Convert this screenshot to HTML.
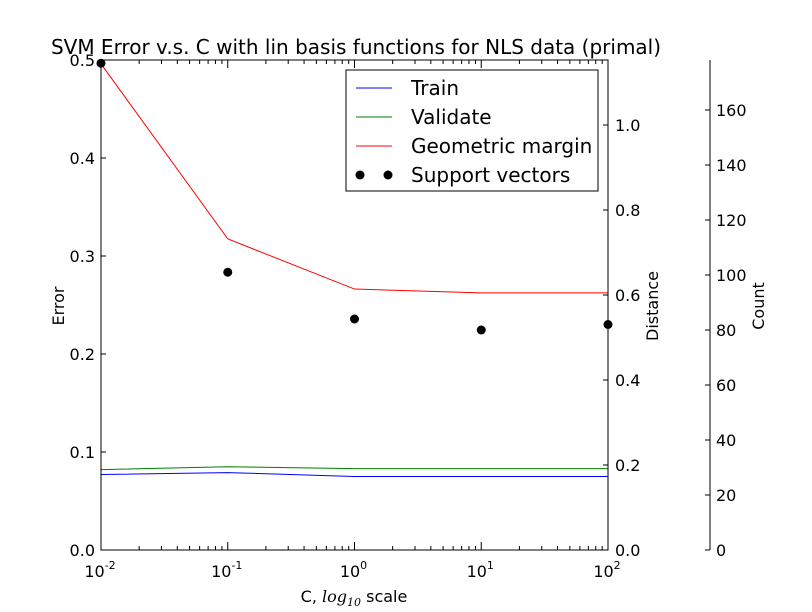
<!DOCTYPE html>
<html><head><meta charset="utf-8"><style>
body{margin:0;background:#fff;}
svg{display:block;font-family:"DejaVu Sans","Liberation Sans",sans-serif;}
</style></head><body>
<svg id="chart" width="812" height="612"></svg>
<script>
const cValues = [0.01, 0.1, 1, 10, 100];
const trainError = [0.077, 0.079, 0.075, 0.075, 0.075];
const validateError = [0.082, 0.085, 0.083, 0.083, 0.083];
const geometricMargin = [1.144, 0.732, 0.614, 0.605, 0.605];
const supportVectors = [177, 101, 84, 80, 82];
const errorTicks = [0.0, 0.1, 0.2, 0.3, 0.4, 0.5];
const distanceTicks = [0.0, 0.2, 0.4, 0.6, 0.8, 1.0];
const countTicks = [0, 20, 40, 60, 80, 100, 120, 140, 160];
const xTickExps = [-2, -1, 0, 1, 2];

const L=101,R=608,T=60,B=550,CX=710;
const NS="http://www.w3.org/2000/svg";
const svg=document.getElementById('chart');
function el(tag,attrs,parent){const e=document.createElementNS(NS,tag);for(const k in attrs)e.setAttribute(k,attrs[k]);(parent||svg).appendChild(e);return e;}
const xs=v=>L+(Math.log10(v)+2)/4*(R-L);
const yErr=v=>B-v/0.5*(B-T);
const yDist=v=>B-v*425;
const yCnt=v=>B-v*2.75;

let t=el('text',{x:356,y:54,'font-size':20,'text-anchor':'middle'});


t.textContent='SVM Error v.s. C with lin basis functions for NLS data (primal)';

function line(vals,fy,color,name){
  const p=el('polyline',{points:vals.map((v,i)=>xs(cValues[i])+','+fy(v)).join(' '),fill:'none',stroke:color,'stroke-width':1});
  
  
}
line(trainError,yErr,'#0000ff','train-line');
line(validateError,yErr,'#008000','validate-line');
line(geometricMargin,yDist,'#ff0000','geometric-margin-line');
supportVectors.forEach((v,i)=>{
  const c=el('circle',{cx:xs(cValues[i]),cy:yCnt(v),r:4.5,fill:'#000'});
  
  
});

const fr=el('rect',{x:L,y:T,width:R-L,height:B-T,fill:'none',stroke:'#000','stroke-width':1});



errorTicks.forEach(v=>{
  const y=yErr(v);
  el('line',{x1:L,x2:L+5,y1:y,y2:y,stroke:'#000'});
  const tx=el('text',{x:L-6,y:y+6,'font-size':16,'text-anchor':'end'});
  
  
  tx.textContent=v.toFixed(1);
});
distanceTicks.forEach(v=>{
  const y=yDist(v);
  el('line',{x1:R-5,x2:R,y1:y,y2:y,stroke:'#000'});
  const tx=el('text',{x:R+7,y:y+6,'font-size':16});
  
  
  tx.textContent=v.toFixed(1);
});
el('line',{x1:CX,x2:CX,y1:T,y2:B,stroke:'#000'});
countTicks.forEach(v=>{
  const y=yCnt(v);
  el('line',{x1:CX-5,x2:CX,y1:y,y2:y,stroke:'#000'});
  const tx=el('text',{x:CX+6,y:y+6,'font-size':16});
  
  
  tx.textContent=v;
});
xTickExps.forEach(e=>{
  const x=xs(Math.pow(10,e));
  el('line',{x1:x,x2:x,y1:B,y2:B-8,stroke:'#000'});
  el('line',{x1:x,x2:x,y1:T,y2:T+8,stroke:'#000'});
  if(e<2) for(let m=2;m<10;m++){const xm=xs(m*Math.pow(10,e));
    el('line',{x1:xm,x2:xm,y1:B,y2:B-4,stroke:'#000'});el('line',{x1:xm,x2:xm,y1:T,y2:T+4,stroke:'#000'});}
  const tx=el('text',{x:x-1,y:577,'font-size':16,'text-anchor':'middle'});
  
  
  tx.innerHTML='10<tspan dy="-8" font-size="11">'+e+'</tspan>';
});
t=el('text',{x:354,y:602,'font-size':16,'text-anchor':'middle'});


t.innerHTML='C, <tspan font-family="DejaVu Serif" font-style="italic">log</tspan><tspan font-family="DejaVu Serif" font-style="italic" font-size="11" dy="4">10</tspan><tspan dy="-4"> scale</tspan>';
t=el('text',{x:0,y:0,'font-size':16,'text-anchor':'middle',transform:'translate(64,306) rotate(-90)'});


t.textContent='Error';
t=el('text',{x:0,y:0,'font-size':16,'text-anchor':'middle',transform:'translate(658,306) rotate(-90)'});


t.textContent='Distance';
t=el('text',{x:0,y:0,'font-size':16,'text-anchor':'middle',transform:'translate(764,306) rotate(-90)'});


t.textContent='Count';

const lg=el('g',{});


el('rect',{x:346,y:70,width:252,height:121,fill:'#fff',stroke:'#000'},lg);
const entries=[['Train','#0000ff',0],['Validate','#008000',0],['Geometric margin','#ff0000',0],['Support vectors','#000',1]];
entries.forEach((en,i)=>{
  const y=88+i*29;
  const g=el('g',{},lg);
  
  
  if(en[2]){el('circle',{cx:360,cy:y,r:4.5,fill:'#000'},g);el('circle',{cx:388,cy:y,r:4.5,fill:'#000'},g);}
  else el('line',{x1:356,x2:392,y1:y,y2:y,stroke:en[1]},g);
  const tx=el('text',{x:411,y:y+7,'font-size':20},g);
  tx.textContent=en[0];
});
</script>
</body></html>
